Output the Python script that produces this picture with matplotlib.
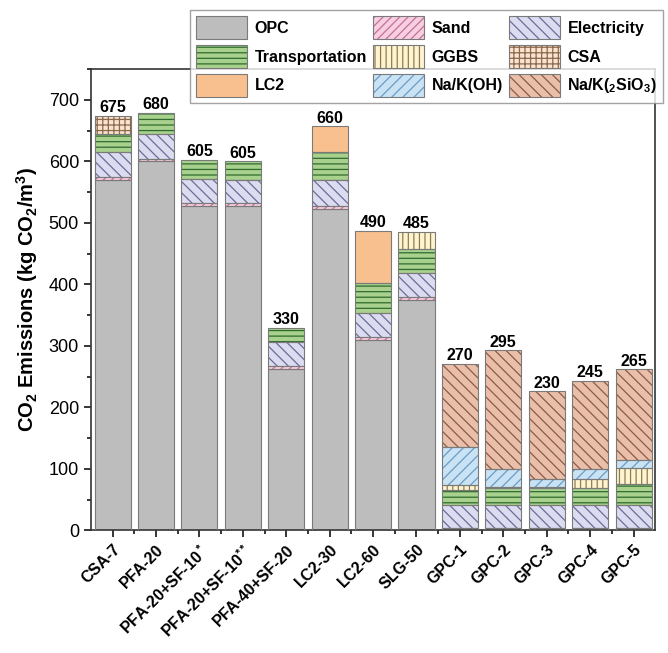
import matplotlib
matplotlib.use('Agg')
import matplotlib.pyplot as plt
from matplotlib.patches import Patch
from matplotlib.ticker import MultipleLocator, FixedLocator
import numpy as np

plt.rcParams['font.family'] = ['Liberation Sans', 'DejaVu Sans']
plt.rcParams['mathtext.fontset'] = 'custom'
plt.rcParams['mathtext.rm'] = 'Liberation Sans'
plt.rcParams['mathtext.bf'] = 'Liberation Sans:bold'
plt.rcParams['mathtext.default'] = 'bf'
plt.rcParams['hatch.linewidth'] = 0.9

# mixes on the x axis
mixes = ['CSA-7', 'PFA-20', 'PFA-20+SF-10$^*$', 'PFA-20+SF-10$^{**}$', 'PFA-40+SF-20',
         'LC2-30', 'LC2-60', 'SLG-50', 'GPC-1', 'GPC-2', 'GPC-3', 'GPC-4', 'GPC-5']
total_labels = ['675', '680', '605', '605', '330', '660', '490', '485',
                '270', '295', '230', '245', '265']

# emissions per component (kg CO2/m3)
opc = [570, 600, 527, 527, 262, 523, 310, 375, 0, 0, 0, 0, 0]
sand = [4, 4, 5, 5, 5, 5, 4, 4, 3, 3, 3, 3, 3]
electricity = [41, 41, 39, 38, 39, 41, 39, 40, 38, 38, 38, 38, 38]
transportation = [30, 34, 32, 30, 23, 47, 50, 38, 25, 28, 27, 27, 34]
ggbs = [0, 0, 0, 0, 0, 0, 0, 28, 7, 2, 2, 16, 27]
csa = [29, 0, 0, 0, 0, 0, 0, 0, 0, 0, 0, 0, 0]
lc2 = [0, 0, 0, 0, 0, 41, 84, 0, 0, 0, 0, 0, 0]
naoh = [0, 0, 0, 0, 0, 0, 0, 0, 62, 29, 14, 15, 13]
silicate = [0, 0, 0, 0, 0, 0, 0, 0, 136, 193, 142, 144, 147]

# (name, values, face colour, hatch colour, hatch) in stacking order
layers = [
    ('OPC', opc, '#bdbdbd', '#8c8c8c', None),
    ('Sand', sand, '#f7cfe0', '#c4709a', '////'),
    ('Electricity', electricity, '#dcdcf0', '#6c6c98', '\\\\\\'),
    ('Transportation', transportation, '#a9d18e', '#2f6b2f', '---'),
    ('GGBS', ggbs, '#fff4cf', '#8a7d55', '|||'),
    ('CSA', csa, '#fbe3cf', '#8b6a4e', '+++'),
    ('LC2', lc2, '#f9c08f', '#b07a4a', None),
    ('Na/K(OH)', naoh, '#c9e3f4', '#6a9cc6', '///'),
    ('Na/K($_2$SiO$_3$)', silicate, '#e9bfa9', '#8b5a48', '\\\\\\'),
]

fig = plt.figure(figsize=(6.68, 6.53), dpi=100)
ax = fig.add_axes([0.136, 0.188, 0.845, 0.706])

x = np.arange(len(mixes))
width = 0.83
bottom = np.zeros(len(mixes))
handles = {}
for name, vals, fc, hc, hatch in layers:
    vals = np.array(vals, dtype=float)
    m = vals > 0
    ax.bar(x[m], vals[m], width, bottom=bottom[m], color=fc, edgecolor=hc,
           hatch=hatch, linewidth=0, zorder=2)
    ax.bar(x[m], vals[m], width, bottom=bottom[m], fill=False,
           edgecolor='#7a7a7a', linewidth=0.8, zorder=3)
    bottom += vals
    handles[name] = (Patch(facecolor=fc, edgecolor=hc, hatch=hatch, linewidth=0),
                     Patch(fill=False, edgecolor='#7a7a7a', linewidth=0.8))

for xi, tot, lab in zip(x, bottom, total_labels):
    ax.text(xi, tot + 1, lab, ha='center', va='bottom', fontsize=11.5,
            fontweight='bold')

ax.set_xlim(-0.5, len(mixes) - 0.5)
ax.set_ylim(0, 750)
ax.yaxis.set_major_locator(FixedLocator(np.arange(0, 701, 100)))
ax.yaxis.set_minor_locator(MultipleLocator(50))
ax.set_xticks(x)
ax.xaxis.set_minor_locator(FixedLocator(x[:-1] + 0.5))
ax.set_xticklabels(mixes, rotation=45, ha='right', rotation_mode='anchor',
                   fontsize=11.5, fontweight='bold')
ax.tick_params(axis='y', labelsize=13, length=5, width=1.1, direction='out')
ax.tick_params(axis='y', which='minor', length=3, width=1.1)
ax.tick_params(axis='x', length=5, width=1.1, direction='out')
ax.tick_params(axis='x', which='minor', length=3, width=1.1)
for s in ax.spines.values():
    s.set_linewidth(1.2)
    s.set_color('#333333')

ax.set_ylabel('CO$_2$ Emissions (kg CO$_2$/m$^3$)', fontsize=14.5,
              fontweight='bold', labelpad=6)

order = ['OPC', 'Transportation', 'LC2', 'Sand', 'GGBS', 'Na/K(OH)',
         'Electricity', 'CSA', 'Na/K($_2$SiO$_3$)']
leg = fig.legend([handles[k] for k in order], order, ncol=3,
                 loc='upper right', bbox_to_anchor=(0.993, 0.985),
                 prop={'weight': 'bold', 'size': 11.5}, frameon=True,
                 fancybox=False, edgecolor='#8c8c8c', handlelength=3.2,
                 handleheight=1.85, labelspacing=0.35, columnspacing=0.4,
                 handletextpad=0.45, borderpad=0.4, borderaxespad=0)
leg.get_frame().set_linewidth(1.0)
leg.set_zorder(10)

fig.savefig('out.png', dpi=100)
